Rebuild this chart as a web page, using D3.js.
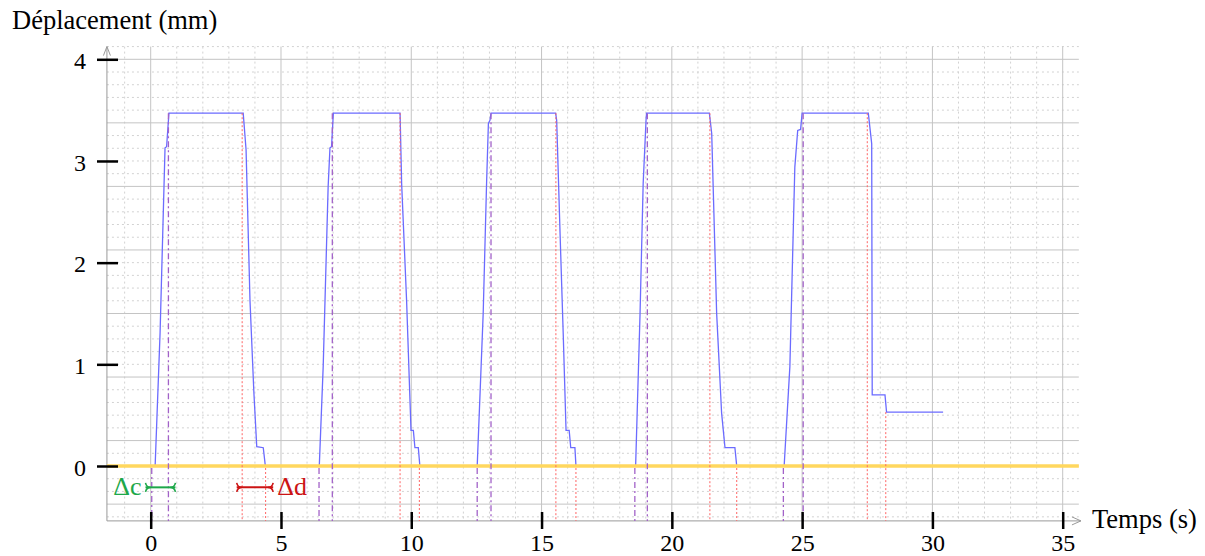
<!DOCTYPE html>
<html lang="fr">
<head>
<meta charset="utf-8">
<script src="https://d3js.org/d3.v7.min.js"></script>
<title>Déplacement</title>
<style>
  body { margin: 0; background: #fff; }
  text { font-family: "Liberation Serif", "Times New Roman", serif; }
</style>
</head>
<body>
<script>
// temps (s) et déplacement (mm) de la courbe bleue
var temps = [0.17, 0.36, 0.55, 0.61, 0.70, 3.55, 3.66, 3.81, 3.96, 4.07, 4.32, 4.40,
             6.47, 6.62, 6.81, 6.88, 6.94, 7.01, 9.57, 9.63, 9.82, 9.99, 10.08, 10.14, 10.27, 10.33,
             12.53, 12.76, 12.89, 12.96, 13.02, 13.06, 15.54, 15.58, 15.71, 15.83, 15.94, 16.06, 16.12, 16.28, 16.32,
             18.61, 18.78, 18.90, 19.01, 19.03, 21.44, 21.53, 21.72, 21.91, 22.04, 22.42, 22.49,
             24.31, 24.53, 24.72, 24.83, 24.94, 25.00, 27.54, 27.67, 27.69, 28.18, 28.24, 30.41];
var deplacement = [0, 1.31, 3.13, 3.14, 3.47, 3.47, 3.11, 1.63, 0.72, 0.19, 0.18, 0,
                   0, 0.98, 2.75, 3.13, 3.14, 3.47, 3.47, 2.78, 1.63, 0.35, 0.35, 0.18, 0.18, 0,
                   0, 1.50, 2.78, 3.37, 3.40, 3.47, 3.47, 3.40, 2.29, 1.31, 0.35, 0.35, 0.18, 0.18, 0,
                   0, 1.50, 2.78, 3.40, 3.47, 3.47, 3.27, 1.50, 0.52, 0.18, 0.18, 0,
                   0, 0.98, 2.94, 3.30, 3.31, 3.47, 3.47, 3.17, 0.70, 0.70, 0.53, 0.53];

// repères verticaux : début / fin de montée (violet), début / fin de descente (rouge)
var debutMontee = [0.04, 6.46, 12.53, 18.58, 24.28];
var finMontee = [0.68, 6.97, 13.06, 19.06, 25.04];
var debutDescente = [3.51, 9.57, 15.55, 21.46, 27.50];
var finDescente = [4.41, 10.31, 16.32, 22.49, 28.21];
var niveauFinDescente = [0, 0, 0, 0, 0.53];
var plateau = 3.47;

var xTicks = [0, 5, 10, 15, 20, 25, 30, 35];
var yTicks = [0, 1, 2, 3, 4];

// annotations Δc et Δd
var deltaC = [-0.2, 0.95];
var deltaD = [3.3, 4.7];
var deltaNiveau = -0.21;

var width = 1205, height = 556;
var svg = d3.select("body").append("svg").attr("width", width).attr("height", height);

var x = d3.scaleLinear().domain([0, 35]).range([150.7, 1062.7]);
var y = d3.scaleLinear().domain([0, 4]).range([466, 59.3]);

var tMin = -1.68, tMax = 35.62;   // bords de la grille
var vMin = -0.54, vMax = 4.125;

// grille
var grid = svg.append("g");
var vMinor = d3.range(-1, 36, 1).filter(function(d) { return d % 5 != 0; });
var vMajor = d3.range(0, 36, 5);
var hMinor = d3.range(0, 38).map(function(i) { return 4.125 - i * 0.125; })
               .filter(function(d, i) { return d >= vMin && (i - 1) % 5 != 0; });
var hMajor = d3.range(0, 8).map(function(i) { return 4 - i * 0.625; });

grid.selectAll(".vmin").data(vMinor).enter().append("line")
    .attr("x1", x).attr("x2", x).attr("y1", y(vMax)).attr("y2", y(vMin))
    .attr("stroke", "#d2d2d2").attr("stroke-dasharray", "2,3");
grid.selectAll(".hmin").data(hMinor).enter().append("line")
    .attr("x1", x(tMin)).attr("x2", x(tMax)).attr("y1", y).attr("y2", y)
    .attr("stroke", "#d2d2d2").attr("stroke-dasharray", "2,3");
grid.selectAll(".vmaj").data(vMajor).enter().append("line")
    .attr("x1", x).attr("x2", x).attr("y1", y(vMax)).attr("y2", y(vMin))
    .attr("stroke", "#c4c4c4");
grid.selectAll(".hmaj").data(hMajor).enter().append("line")
    .attr("x1", x(tMin)).attr("x2", x(tMax)).attr("y1", y).attr("y2", y)
    .attr("stroke", "#c4c4c4");

// axes gris avec flèches
var axe = svg.append("g").attr("stroke", "#999").attr("fill", "none");
axe.append("line").attr("x1", x(tMin)).attr("x2", x(tMin)).attr("y1", y(vMin)).attr("y2", y(vMax));
axe.append("path").attr("d", "M" + (x(tMin) - 3.5) + "," + (y(vMax) + 9) + "L" + x(tMin) + "," + y(vMax) + "L" + (x(tMin) + 3.5) + "," + (y(vMax) + 9));
axe.append("line").attr("x1", x(tMin)).attr("x2", x(35.7)).attr("y1", y(vMin)).attr("y2", y(vMin));
axe.append("path").attr("d", "M" + (x(35.7) - 9) + "," + (y(vMin) - 4) + "L" + x(35.7) + "," + y(vMin) + "L" + (x(35.7) - 9) + "," + (y(vMin) + 4));

// courbe
var ligne = d3.line()
    .x(function(d, i) { return x(temps[i]); })
    .y(function(d) { return y(d); });
svg.append("path")
   .attr("d", ligne(deplacement))
   .attr("fill", "none").attr("stroke", "#6b6bff").attr("stroke-width", 1.3);

// ligne zéro (par-dessus la courbe)
svg.append("line")
   .attr("x1", x(tMin)).attr("x2", x(tMax)).attr("y1", y(0)).attr("y2", y(0))
   .attr("stroke", "#ffd75e").attr("stroke-width", 3.5);

// repères verticaux
var reperes = svg.append("g").attr("fill", "none");
reperes.selectAll(".dm").data(debutMontee).enter().append("line")
    .attr("x1", x).attr("x2", x).attr("y1", y(0) + 2).attr("y2", y(vMin))
    .attr("stroke", "#a262c8").attr("stroke-width", 1.3).attr("stroke-dasharray", "6,3,2,3");
reperes.selectAll(".fm").data(finMontee).enter().append("line")
    .attr("x1", x).attr("x2", x).attr("y1", y(plateau)).attr("y2", y(vMin))
    .attr("stroke", "#a262c8").attr("stroke-width", 1.3).attr("stroke-dasharray", "6,3,2,3");
reperes.selectAll(".dd").data(debutDescente).enter().append("line")
    .attr("x1", x).attr("x2", x).attr("y1", y(plateau)).attr("y2", y(vMin))
    .attr("stroke", "#ff6464").attr("stroke-width", 1).attr("stroke-dasharray", "2,2");
reperes.selectAll(".fd").data(finDescente).enter().append("line")
    .attr("x1", x).attr("x2", x)
    .attr("y1", function(d, i) { return y(niveauFinDescente[i]) + (niveauFinDescente[i] ? 0 : 2); })
    .attr("y2", y(vMin))
    .attr("stroke", "#ff6464").attr("stroke-width", 1).attr("stroke-dasharray", "2,2");

// graduations
var gy = svg.append("g").attr("transform", "translate(118,0)")
    .call(d3.axisLeft(y).tickValues(yTicks).tickFormat(d3.format("d")).tickSize(21).tickPadding(11));
var gx = svg.append("g").attr("transform", "translate(0,512)")
    .call(d3.axisBottom(x).tickValues(xTicks).tickFormat(d3.format("d")).tickSize(17).tickPadding(4.5));
[gy, gx].forEach(function(g) {
    g.select(".domain").remove();
    g.selectAll("line").attr("stroke", "#000").attr("stroke-width", 2.5);
    g.selectAll("text").attr("fill", "#000")
     .style("font-family", "'Liberation Serif', serif").style("font-size", "24px");
});
gy.selectAll("text").attr("dy", "0.38em");

// titres
svg.append("text").attr("x", 12).attr("y", 29).text("Déplacement (mm)")
   .style("font-size", "26.5px").attr("fill", "#000");
svg.append("text").attr("x", 1092).attr("y", 528).text("Temps (s)")
   .style("font-size", "26.5px").attr("fill", "#000");

// annotations
function intervalle(d, couleur) {
    var g = svg.append("g").attr("stroke", couleur).attr("fill", "none").attr("stroke-width", 2);
    var x0 = x(d[0]), x1 = x(d[1]), yy = y(deltaNiveau);
    g.append("line").attr("x1", x0).attr("x2", x1).attr("y1", yy).attr("y2", yy);
    g.append("path").attr("stroke-width", 1.6)
     .attr("d", "M" + x0 + "," + (yy - 4.5) + "Q" + (x0 + 1) + "," + yy + " " + (x0 + 5) + "," + yy +
                "Q" + (x0 + 1) + "," + yy + " " + x0 + "," + (yy + 4.5) +
                "M" + x1 + "," + (yy - 4.5) + "Q" + (x1 - 1) + "," + yy + " " + (x1 - 5) + "," + yy +
                "Q" + (x1 - 1) + "," + yy + " " + x1 + "," + (yy + 4.5));
}
intervalle(deltaC, "#1ea84a");
intervalle(deltaD, "#cc1414");
svg.append("text").attr("x", x(deltaC[0]) - 4).attr("y", y(deltaNiveau) + 8)
   .attr("text-anchor", "end").attr("fill", "#1ea84a").style("font-size", "26px").text("Δc");
svg.append("text").attr("x", x(deltaD[1]) + 4).attr("y", y(deltaNiveau) + 8)
   .attr("fill", "#cc1414").style("font-size", "26px").text("Δd");
</script>
</body>
</html>
